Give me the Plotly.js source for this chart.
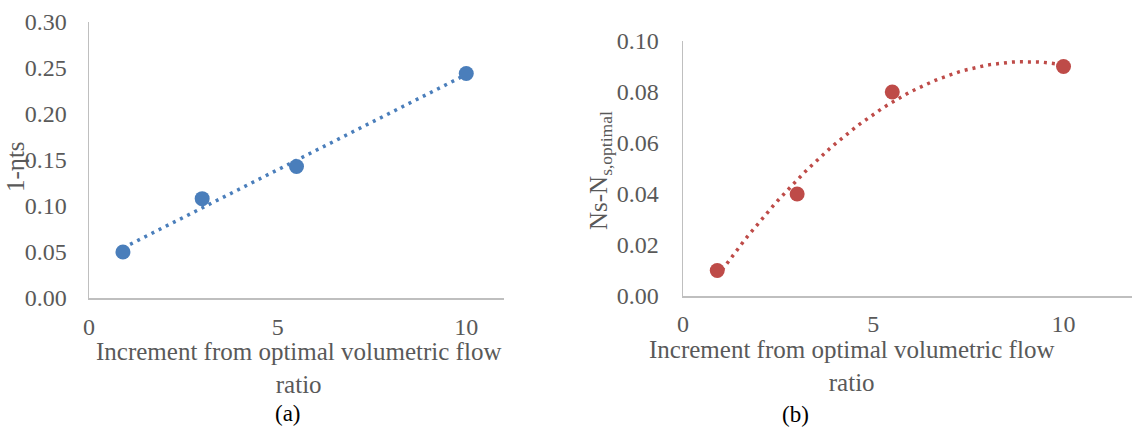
<!DOCTYPE html>
<html>
<head>
<meta charset="utf-8">
<script src="https://cdn.plot.ly/plotly-3.0.1.min.js"></script>
<style>html,body{margin:0;padding:0;background:#fff;}#chart{width:1132px;height:428px;}</style>
</head>
<body>
<div id="chart"></div>
<script>
// Data
const flowIncrement = [0.9, 3, 5.5, 10];
const lossA = [0.050, 0.108, 0.143, 0.244];      // 1-eta_ts
const nsDeltaB = [0.010, 0.040, 0.080, 0.090];   // Ns - Ns,optimal
const xTicks = [0, 5, 10];
const yTicksA = [0, 0.05, 0.10, 0.15, 0.20, 0.25, 0.30];
const yTicksB = [0, 0.02, 0.04, 0.06, 0.08, 0.10];

// Least-squares polynomial fit (trendline, as in the original spreadsheet)
function polyfit(xs, ys, deg) {
  const n = deg + 1;
  const A = [], b = [];
  for (let i = 0; i < n; i++) {
    A.push([]);
    for (let j = 0; j < n; j++) A[i].push(xs.reduce((s, x) => s + Math.pow(x, i + j), 0));
    b.push(xs.reduce((s, x, k) => s + ys[k] * Math.pow(x, i), 0));
  }
  for (let c = 0; c < n; c++) {
    let p = c;
    for (let r = c + 1; r < n; r++) if (Math.abs(A[r][c]) > Math.abs(A[p][c])) p = r;
    [A[c], A[p]] = [A[p], A[c]]; [b[c], b[p]] = [b[p], b[c]];
    for (let r = 0; r < n; r++) {
      if (r === c) continue;
      const f = A[r][c] / A[c][c];
      for (let k = c; k < n; k++) A[r][k] -= f * A[c][k];
      b[r] -= f * b[c];
    }
  }
  return b.map((v, i) => v / A[i][i]);
}
function trend(xs, ys, deg) {
  const co = polyfit(xs, ys, deg);
  const x0 = Math.min(...xs), x1 = Math.max(...xs);
  const tx = [], ty = [];
  for (let i = 0; i <= 80; i++) {
    const x = x0 + (x1 - x0) * i / 80;
    tx.push(x);
    ty.push(co.reduce((s, c, k) => s + c * Math.pow(x, k), 0));
  }
  return {x: tx, y: ty};
}
const tA = trend(flowIncrement, lossA, 1);
const tB = trend(flowIncrement, nsDeltaB, 2);

const blue = '#4a7ebb', red = '#be4b48';
const font = {family: 'Liberation Serif, Times New Roman, serif', color: '#595959', size: 24};

const traces = [
  {x: tA.x, y: tA.y, xaxis: 'x', yaxis: 'y', mode: 'lines', line: {color: blue, width: 3.5, dash: '3px,5px'}, hoverinfo: 'skip'},
  {x: flowIncrement, y: lossA, xaxis: 'x', yaxis: 'y', mode: 'markers', marker: {color: blue, size: 15}},
  {x: tB.x, y: tB.y, xaxis: 'x2', yaxis: 'y2', mode: 'lines', line: {color: red, width: 3.5, dash: '3px,5px'}, hoverinfo: 'skip'},
  {x: flowIncrement, y: nsDeltaB, xaxis: 'x2', yaxis: 'y2', mode: 'markers', marker: {color: red, size: 15}}
];

const W = 1132, H = 428;
const axBase = {showline: true, linecolor: '#bfbfbf', linewidth: 1.5, showgrid: false, zeroline: false,
  ticks: '', tickfont: font, fixedrange: true};

const layout = {
  width: W, height: H, margin: {l: 0, r: 0, t: 0, b: 0}, showlegend: false,
  paper_bgcolor: '#fff', plot_bgcolor: '#fff', font: font,
  xaxis: Object.assign({}, axBase, {domain: [89 / W, 504 / W], range: [0, 11], tickvals: xTicks, anchor: 'y', ticklabelstandoff: 7}),
  yaxis: Object.assign({}, axBase, {domain: [(H - 298) / H, (H - 22) / H], range: [0, 0.3], tickvals: yTicksA, tickformat: '.2f', anchor: 'x', ticklabelstandoff: 16}),
  xaxis2: Object.assign({}, axBase, {domain: [683 / W, 1], range: [0, 11.8], tickvals: xTicks, anchor: 'y2', ticklabelstandoff: 6}),
  yaxis2: Object.assign({}, axBase, {domain: [(H - 296) / H, (H - 41) / H], range: [0, 0.1], tickvals: yTicksB, tickformat: '.2f', anchor: 'x2', ticklabelstandoff: 18}),
  annotations: [
    {text: 'Increment from optimal volumetric flow<br>ratio', x: 298, y: 368, showarrow: false, font: Object.assign({}, font, {size: 25})},
    {text: '1-ηts', x: 15, y: 167, textangle: -90, showarrow: false, font: Object.assign({}, font, {size: 25})},
    {text: '(a)', x: 288, y: 413, showarrow: false, font: Object.assign({}, font, {color: '#000', size: 23})},
    {text: 'Increment from optimal volumetric flow<br>ratio', x: 851, y: 366, showarrow: false, font: Object.assign({}, font, {size: 25})},
    {text: 'Ns-N<sub>s,optimal</sub>', x: 600, y: 171, textangle: -90, showarrow: false, font: Object.assign({}, font, {size: 25})},
    {text: '(b)', x: 795, y: 414, showarrow: false, font: Object.assign({}, font, {color: '#000', size: 23})}
  ].map(a => Object.assign({xref: 'paper', yref: 'paper', xanchor: 'center', yanchor: 'middle'}, a, {x: a.x / W, y: 1 - a.y / H}))
};

Plotly.newPlot('chart', traces, layout, {staticPlot: true, displayModeBar: false});
</script>
</body>
</html>
